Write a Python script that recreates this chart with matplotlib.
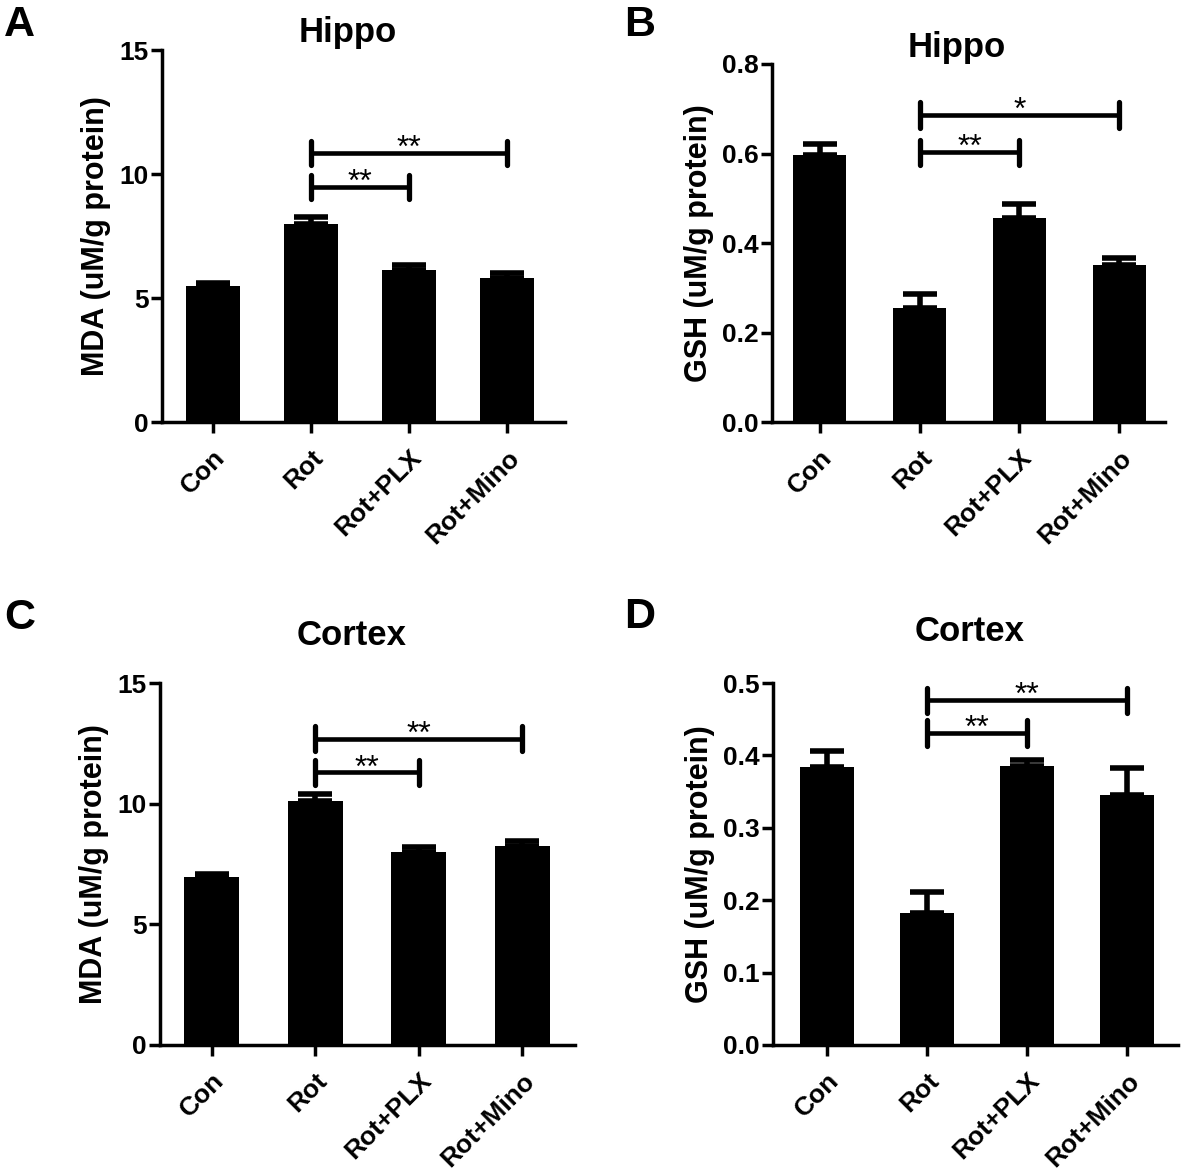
import numpy as np
import matplotlib
matplotlib.use("Agg")
import matplotlib.pyplot as plt

plt.rcParams['font.family'] = ['Liberation Sans', 'DejaVu Sans']
plt.rcParams['font.weight'] = 'bold'

groups = ["Con", "Rot", "Rot+PLX", "Rot+Mino"]

# panel A - hippocampus MDA
mda_hippo = [5.5, 8.0, 6.15, 5.8]
mda_hippo_err = [0.1, 0.25, 0.2, 0.2]
# panel B - hippocampus GSH
gsh_hippo = [0.597, 0.255, 0.457, 0.35]
gsh_hippo_err = [0.025, 0.03, 0.03, 0.017]
# panel C - cortex MDA
mda_cortex = [6.95, 10.1, 8.0, 8.25]
mda_cortex_err = [0.15, 0.3, 0.2, 0.2]
# panel D - cortex GSH
gsh_cortex = [0.384, 0.182, 0.385, 0.345]
gsh_cortex_err = [0.022, 0.03, 0.009, 0.038]

# significance brackets: (from, to, height, label)
sig_A = [(1, 2, 9.48, "**"), (1, 3, 10.85, "**")]
sig_B = [(1, 2, 0.603, "**"), (1, 3, 0.686, "*")]
sig_C = [(1, 2, 11.3, "**"), (1, 3, 12.7, "**")]
sig_D = [(1, 2, 0.431, "**"), (1, 3, 0.4765, "**")]

panels = [
    dict(letter="A", title="Hippo", vals=mda_hippo, err=mda_hippo_err, sig=sig_A,
         ylabel="MDA (uM/g protein)", ylim=(0, 15), ticks=[0, 5, 10, 15], fmt="{:.0f}",
         rect=[0.1372, 0.6405, 0.3412, 0.3169], xlim=(-0.52, 3.59), width=0.55, cap=0.5,
         title_xy=(348, 42), letter_xy=(4, 36)),
    dict(letter="B", title="Hippo", vals=gsh_hippo, err=gsh_hippo_err, sig=sig_B,
         ylabel="GSH (uM/g protein)", ylim=(0, 0.8), ticks=[0, 0.2, 0.4, 0.6, 0.8], fmt="{:.1f}",
         rect=[0.6537, 0.6405, 0.3328, 0.3050], xlim=(-0.48, 3.46), width=0.53, cap=0.028,
         title_xy=(957, 57), letter_xy=(624, 36)),
    dict(letter="C", title="Cortex", vals=mda_cortex, err=mda_cortex_err, sig=sig_C,
         ylabel="MDA (uM/g protein)", ylim=(0, 15), ticks=[0, 5, 10, 15], fmt="{:.0f}",
         rect=[0.1355, 0.1099, 0.3514, 0.3083], xlim=(-0.50, 3.51), width=0.53, cap=0.52,
         title_xy=(352, 645), letter_xy=(4, 629)),
    dict(letter="D", title="Cortex", vals=gsh_cortex, err=gsh_cortex_err, sig=sig_D,
         ylabel="GSH (uM/g protein)", ylim=(0, 0.5), ticks=[0, 0.1, 0.2, 0.3, 0.4, 0.5], fmt="{:.1f}",
         rect=[0.6545, 0.1099, 0.3430, 0.3083], xlim=(-0.54, 3.51), width=0.54, cap=0.0173,
         title_xy=(970, 641), letter_xy=(624, 628)),
]

W, H = 1181, 1174
fig = plt.figure(figsize=(W / 100, H / 100), dpi=100)

for p in panels:
    ax = fig.add_axes(p["rect"])
    x = np.arange(len(groups))
    ax.bar(x, p["vals"], width=p["width"], color="black", zorder=2)
    ax.errorbar(x, p["vals"], yerr=[np.zeros(len(x)), p["err"]], fmt="none",
                ecolor="black", elinewidth=4, capsize=12, capthick=4, zorder=1)

    # significance brackets
    for a, b, h, lab in p["sig"]:
        ax.plot([a, b], [h, h], color="black", lw=3.3, solid_capstyle="butt")
        for e in (a, b):
            ax.plot([e, e], [h - p["cap"], h + p["cap"]], color="black", lw=3.8,
                    solid_capstyle="round")
        ax.annotate(lab, xy=((a + b) / 2, h), xytext=(0, -3), textcoords="offset points",
                    ha="center", va="baseline", fontsize=23, fontweight="normal")

    ax.set_xlim(*p["xlim"])
    ax.set_ylim(*p["ylim"])
    ax.set_yticks(p["ticks"])
    ax.set_yticklabels([p["fmt"].format(t) for t in p["ticks"]], fontsize=19, fontweight="bold")
    ax.set_xticks(x)
    ax.set_xticklabels(groups, rotation=45, ha="right", rotation_mode="anchor",
                       fontsize=19, fontweight="bold")
    ax.set_ylabel(p["ylabel"], fontsize=22, fontweight="bold", labelpad=6)

    for s in ("top", "right"):
        ax.spines[s].set_visible(False)
    for s in ("left", "bottom"):
        ax.spines[s].set_linewidth(2.5)
    ax.tick_params(axis="y", width=2.5, length=8, direction="out", pad=1.5)
    ax.tick_params(axis="x", width=2.5, length=8, direction="out", pad=9)

    tx, ty = p["title_xy"]
    fig.text(tx / W, 1 - ty / H, p["title"], ha="center", va="baseline",
             fontsize=25, fontweight="bold")
    lx, ly = p["letter_xy"]
    fig.text(lx / W, 1 - ly / H, p["letter"], ha="left", va="baseline",
             fontsize=31, fontweight="bold")

fig.savefig("out.png", dpi=100)
